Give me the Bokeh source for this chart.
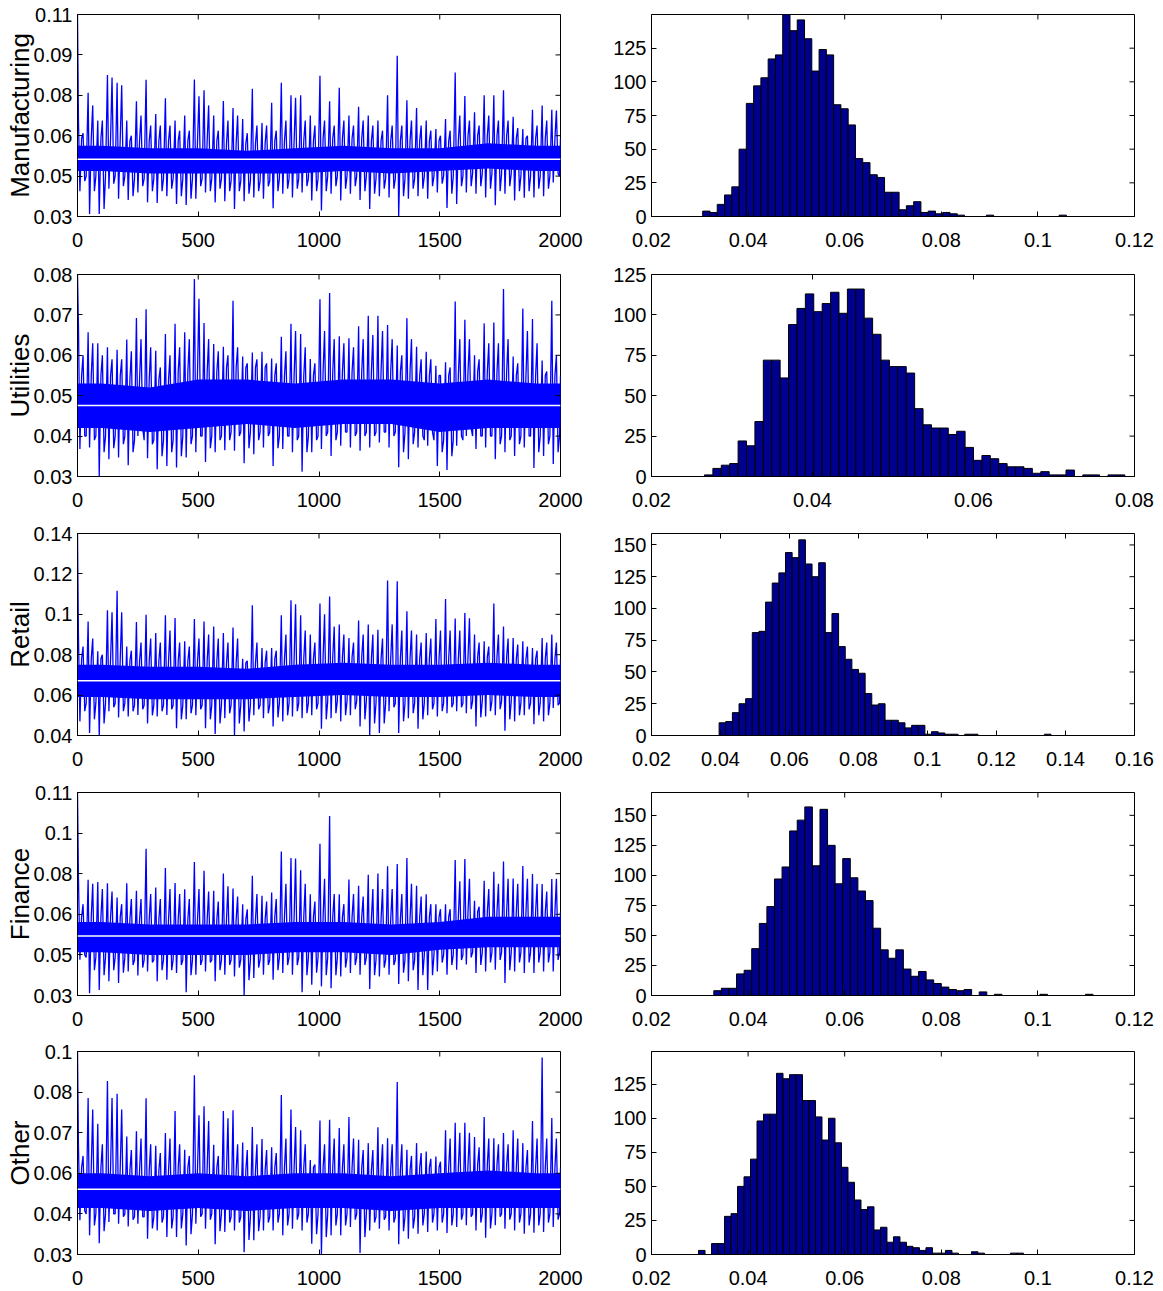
import numpy as np
from bokeh.plotting import figure
from bokeh.models import FixedTicker, Range1d, Span
from bokeh.layouts import column, row
from bokeh.embed import file_html
from bokeh.resources import INLINE

FONT = "Liberation Sans"
TRACE_BLUE = "#0000FF"
BAR_NAVY = "#00008F"

# ---------------- data ----------------
sectors = ["Manufacturing", "Utilities", "Retail", "Finance", "Other"]
iteration_ticks = [0, 500, 1000, 1500, 2000]
iteration_labels = ["0", "500", "1000", "1500", "2000"]
bin_size = 40  # iterations summarised by each group of read values

# per-40-iteration extremes of the chains
manuf_hi = [0.068, 0.079, 0.068, 0.086, 0.083, 0.068, 0.0756, 0.0842, 0.0706, 0.0768,
            0.068, 0.070, 0.0843, 0.080, 0.070, 0.0757, 0.073, 0.0686, 0.0806, 0.067,
            0.075, 0.083, 0.078, 0.078, 0.070, 0.0857, 0.0756, 0.081, 0.070, 0.0735,
            0.070, 0.068, 0.078, 0.0937, 0.076, 0.073, 0.068, 0.0646, 0.0686, 0.087,
            0.0777, 0.0713, 0.078, 0.078, 0.080, 0.0695, 0.0646, 0.0723, 0.074, 0.0723]
manuf_lo = [0.040, 0.031, 0.031, 0.041, 0.037, 0.0365, 0.0395, 0.0356, 0.0354, 0.038,
            0.035, 0.0346, 0.037, 0.0395, 0.0356, 0.036, 0.033, 0.036, 0.0375, 0.037,
            0.0333, 0.039, 0.0375, 0.0395, 0.0363, 0.0324, 0.039, 0.0363, 0.039, 0.0365,
            0.033, 0.038, 0.0375, 0.030, 0.037, 0.038, 0.037, 0.0395, 0.0334, 0.035,
            0.0395, 0.039, 0.0375, 0.0345, 0.039, 0.0363, 0.0374, 0.0375, 0.038, 0.0435]
manuf_hi2 = [0.063, 0.074, 0.068, 0.085, 0.082, 0.062, 0.070, 0.066, 0.066, 0.066,
             0.064, 0.064, 0.0776, 0.074, 0.064, 0.068, 0.070, 0.063, 0.066, 0.066,
             0.064, 0.068, 0.077, 0.068, 0.066, 0.068, 0.066, 0.068, 0.066, 0.068,
             0.066, 0.064, 0.066, 0.066, 0.068, 0.066, 0.064, 0.062, 0.064, 0.070,
             0.068, 0.066, 0.070, 0.068, 0.068, 0.065, 0.062, 0.066, 0.068, 0.072]
manuf_lo2 = [0.044, 0.040, 0.033, 0.043, 0.042, 0.038, 0.042, 0.040, 0.040, 0.041,
             0.038, 0.037, 0.042, 0.040, 0.041, 0.040, 0.040, 0.039, 0.040, 0.042,
             0.040, 0.041, 0.041, 0.042, 0.040, 0.040, 0.042, 0.041, 0.042, 0.040,
             0.039, 0.041, 0.041, 0.038, 0.041, 0.041, 0.042, 0.043, 0.039, 0.042,
             0.042, 0.042, 0.041, 0.040, 0.042, 0.040, 0.040, 0.041, 0.041, 0.047]

util_hi = [0.0672, 0.0657, 0.063, 0.062, 0.0614, 0.0639, 0.0692, 0.0714, 0.0611, 0.0653,
           0.0678, 0.0657, 0.0789, 0.068, 0.0628, 0.0621, 0.0735, 0.0597, 0.0607, 0.0609,
           0.0592, 0.0646, 0.0678, 0.0653, 0.0591, 0.0739, 0.0754, 0.0647, 0.0642, 0.0672,
           0.0698, 0.0698, 0.0675, 0.0624, 0.0692, 0.0621, 0.0609, 0.0574, 0.0583, 0.0733,
           0.0688, 0.060, 0.0679, 0.0681, 0.0764, 0.0597, 0.0716, 0.069, 0.0587, 0.0735]
util_lo = [0.0368, 0.0372, 0.030, 0.0343, 0.0347, 0.0328, 0.040, 0.0345, 0.0318, 0.0326,
           0.0322, 0.0347, 0.036, 0.0336, 0.036, 0.0365, 0.0364, 0.0333, 0.0355, 0.0372,
           0.0326, 0.0368, 0.036, 0.0312, 0.036, 0.0368, 0.0351, 0.0376, 0.0372, 0.0364,
           0.0372, 0.0384, 0.0372, 0.0323, 0.0343, 0.0372, 0.0376, 0.0326, 0.0316, 0.0376,
           0.040, 0.0368, 0.0372, 0.0343, 0.036, 0.0351, 0.0372, 0.0321, 0.0351, 0.0331]
util_hi2 = [0.060, 0.063, 0.060, 0.059, 0.059, 0.061, 0.064, 0.062, 0.057, 0.060,
            0.062, 0.064, 0.074, 0.064, 0.061, 0.060, 0.062, 0.058, 0.059, 0.058,
            0.058, 0.061, 0.066, 0.062, 0.058, 0.066, 0.064, 0.063, 0.062, 0.064,
            0.065, 0.066, 0.064, 0.060, 0.064, 0.059, 0.059, 0.055, 0.057, 0.064,
            0.064, 0.059, 0.063, 0.063, 0.064, 0.058, 0.066, 0.063, 0.056, 0.060]
util_lo2 = [0.040, 0.039, 0.036, 0.037, 0.038, 0.036, 0.042, 0.038, 0.035, 0.036,
            0.035, 0.038, 0.040, 0.037, 0.039, 0.039, 0.040, 0.037, 0.039, 0.040,
            0.037, 0.040, 0.039, 0.036, 0.039, 0.040, 0.039, 0.041, 0.040, 0.040,
            0.040, 0.041, 0.040, 0.036, 0.038, 0.040, 0.041, 0.036, 0.035, 0.040,
            0.042, 0.040, 0.040, 0.038, 0.039, 0.038, 0.040, 0.036, 0.038, 0.036]

retail_hi = [0.0886, 0.0964, 0.0817, 0.102, 0.1117, 0.0841, 0.0962, 0.0998, 0.0907, 0.0995,
             0.0982, 0.0866, 0.0977, 0.0964, 0.094, 0.0907, 0.0935, 0.078, 0.1045, 0.0833,
             0.0833, 0.0995, 0.107, 0.0995, 0.090, 0.1053, 0.1088, 0.0949, 0.0883, 0.0969,
             0.0949, 0.0924, 0.1167, 0.1164, 0.1015, 0.090, 0.0907, 0.0977, 0.1076, 0.0979,
             0.1007, 0.090, 0.0866, 0.1053, 0.094, 0.0883, 0.0866, 0.0833, 0.0883, 0.090]
retail_lo = [0.047, 0.0412, 0.040, 0.052, 0.0489, 0.0494, 0.0502, 0.046, 0.0494, 0.0502,
             0.0436, 0.0481, 0.050, 0.0436, 0.0407, 0.0486, 0.040, 0.042, 0.050, 0.0486,
             0.0445, 0.047, 0.0494, 0.0486, 0.050, 0.0433, 0.0486, 0.047, 0.050, 0.0445,
             0.040, 0.0412, 0.052, 0.0412, 0.0486, 0.0433, 0.050, 0.0494, 0.051, 0.052,
             0.051, 0.0445, 0.0494, 0.050, 0.0423, 0.047, 0.050, 0.0456, 0.047, 0.0536]
retail_hi2 = [0.084, 0.088, 0.080, 0.101, 0.101, 0.082, 0.086, 0.088, 0.086, 0.092,
              0.086, 0.084, 0.088, 0.090, 0.088, 0.086, 0.088, 0.077, 0.086, 0.082,
              0.082, 0.090, 0.105, 0.092, 0.086, 0.100, 0.094, 0.090, 0.086, 0.090,
              0.090, 0.088, 0.095, 0.092, 0.092, 0.086, 0.088, 0.092, 0.092, 0.092,
              0.098, 0.086, 0.084, 0.090, 0.088, 0.085, 0.084, 0.082, 0.086, 0.086]
retail_lo2 = [0.052, 0.048, 0.046, 0.054, 0.052, 0.052, 0.053, 0.050, 0.052, 0.053,
              0.048, 0.051, 0.053, 0.048, 0.046, 0.051, 0.046, 0.047, 0.053, 0.051,
              0.049, 0.050, 0.052, 0.051, 0.053, 0.048, 0.051, 0.050, 0.053, 0.048,
              0.046, 0.046, 0.054, 0.047, 0.051, 0.048, 0.053, 0.052, 0.054, 0.054,
              0.053, 0.049, 0.052, 0.053, 0.048, 0.050, 0.053, 0.050, 0.050, 0.055]

finance_hi = [0.0779, 0.0776, 0.0767, 0.0762, 0.0706, 0.0762, 0.0733, 0.0898, 0.0746, 0.0822,
              0.0763, 0.0739, 0.0846, 0.0812, 0.0733, 0.0801, 0.0742, 0.068, 0.0792, 0.0713,
              0.0726, 0.0887, 0.0862, 0.0814, 0.0719, 0.0918, 0.1027, 0.0719, 0.0777, 0.0752,
              0.0796, 0.0801, 0.0829, 0.0838, 0.0862, 0.0752, 0.0719, 0.068, 0.068, 0.0854,
              0.0858, 0.0693, 0.0772, 0.0808, 0.0848, 0.0781, 0.083, 0.0799, 0.0759, 0.0779]
finance_lo = [0.0461, 0.0329, 0.0342, 0.0376, 0.0369, 0.0415, 0.0399, 0.0415, 0.0376, 0.0382,
              0.0409, 0.0333, 0.0402, 0.0415, 0.0376, 0.0402, 0.0395, 0.032, 0.0389, 0.0402,
              0.0382, 0.0409, 0.0402, 0.0333, 0.0362, 0.0356, 0.0349, 0.0395, 0.0409, 0.0402,
              0.0346, 0.0395, 0.0402, 0.0365, 0.0376, 0.0342, 0.0342, 0.0415, 0.0402, 0.0422,
              0.0442, 0.0409, 0.0415, 0.0422, 0.0369, 0.0415, 0.0409, 0.0409, 0.0415, 0.0415]
finance_hi2 = [0.068, 0.076, 0.074, 0.073, 0.068, 0.070, 0.070, 0.072, 0.070, 0.074,
               0.072, 0.070, 0.074, 0.073, 0.069, 0.075, 0.071, 0.066, 0.072, 0.069,
               0.070, 0.076, 0.086, 0.076, 0.069, 0.078, 0.072, 0.068, 0.072, 0.071,
               0.074, 0.074, 0.074, 0.072, 0.076, 0.071, 0.068, 0.066, 0.066, 0.077,
               0.078, 0.067, 0.074, 0.076, 0.078, 0.076, 0.078, 0.076, 0.073, 0.078]
finance_lo2 = [0.048, 0.042, 0.040, 0.042, 0.041, 0.044, 0.043, 0.045, 0.042, 0.042,
               0.044, 0.040, 0.044, 0.045, 0.042, 0.044, 0.043, 0.038, 0.043, 0.044,
               0.042, 0.044, 0.044, 0.040, 0.041, 0.040, 0.040, 0.043, 0.044, 0.044,
               0.040, 0.043, 0.044, 0.041, 0.042, 0.040, 0.040, 0.045, 0.044, 0.046,
               0.047, 0.044, 0.045, 0.046, 0.042, 0.045, 0.045, 0.045, 0.045, 0.046]

other_hi = [0.0653, 0.082, 0.0731, 0.0878, 0.0834, 0.0687, 0.0705, 0.0819, 0.0655, 0.0699,
            0.0775, 0.0641, 0.0898, 0.0791, 0.0658, 0.0775, 0.0777, 0.0666, 0.072, 0.0678,
            0.065, 0.083, 0.078, 0.0708, 0.0606, 0.0742, 0.0745, 0.0716, 0.0754, 0.0676,
            0.0664, 0.0719, 0.0681, 0.0875, 0.0641, 0.0664, 0.0635, 0.0618, 0.0708, 0.0734,
            0.0734, 0.0685, 0.0754, 0.0681, 0.0699, 0.0708, 0.0664, 0.074, 0.0959, 0.0751]
other_lo = [0.0398, 0.0346, 0.0319, 0.0392, 0.0386, 0.0377, 0.0386, 0.0334, 0.0363, 0.034,
            0.034, 0.0311, 0.0386, 0.0369, 0.0315, 0.0358, 0.0363, 0.0288, 0.0329, 0.0363,
            0.0363, 0.0346, 0.0369, 0.0363, 0.0317, 0.028, 0.0346, 0.0346, 0.0375, 0.0285,
            0.0363, 0.0369, 0.0363, 0.0315, 0.0334, 0.0352, 0.0358, 0.0363, 0.0354, 0.0375,
            0.0381, 0.0363, 0.0338, 0.0381, 0.0369, 0.0363, 0.0352, 0.0355, 0.0358, 0.0375]
other_hi2 = [0.062, 0.078, 0.066, 0.082, 0.078, 0.064, 0.068, 0.066, 0.063, 0.068,
             0.066, 0.062, 0.076, 0.074, 0.062, 0.075, 0.066, 0.064, 0.066, 0.064,
             0.063, 0.068, 0.072, 0.066, 0.059, 0.066, 0.068, 0.066, 0.068, 0.064,
             0.064, 0.066, 0.066, 0.066, 0.062, 0.063, 0.061, 0.060, 0.068, 0.070,
             0.070, 0.065, 0.068, 0.066, 0.066, 0.068, 0.064, 0.068, 0.068, 0.068]
other_lo2 = [0.043, 0.038, 0.036, 0.042, 0.041, 0.040, 0.041, 0.037, 0.039, 0.037,
             0.037, 0.035, 0.041, 0.040, 0.036, 0.039, 0.039, 0.033, 0.036, 0.039,
             0.039, 0.038, 0.040, 0.039, 0.035, 0.034, 0.038, 0.038, 0.040, 0.034,
             0.039, 0.040, 0.039, 0.036, 0.037, 0.038, 0.039, 0.039, 0.038, 0.040,
             0.041, 0.039, 0.037, 0.041, 0.040, 0.039, 0.038, 0.038, 0.039, 0.040]

# outer edges of the dense central band of each chain, per 200 iterations
manuf_core_lo = [0.046, 0.045, 0.045, 0.044, 0.045, 0.046, 0.045, 0.046, 0.047, 0.046]
manuf_core_hi = [0.061, 0.060, 0.060, 0.059, 0.060, 0.061, 0.060, 0.060, 0.062, 0.061]
util_core_lo = [0.040, 0.039, 0.040, 0.041, 0.040, 0.041, 0.041, 0.039, 0.040, 0.040]
util_core_hi = [0.055, 0.054, 0.056, 0.057, 0.055, 0.056, 0.056, 0.055, 0.056, 0.055]
retail_core_lo = [0.056, 0.055, 0.055, 0.055, 0.056, 0.057, 0.056, 0.056, 0.057, 0.056]
retail_core_hi = [0.078, 0.077, 0.077, 0.076, 0.078, 0.079, 0.078, 0.078, 0.079, 0.078]
finance_core_lo = [0.047, 0.046, 0.046, 0.046, 0.047, 0.047, 0.046, 0.048, 0.049, 0.049]
finance_core_hi = [0.063, 0.062, 0.062, 0.062, 0.063, 0.063, 0.062, 0.063, 0.065, 0.065]
other_core_lo = [0.042, 0.041, 0.042, 0.041, 0.042, 0.042, 0.041, 0.042, 0.042, 0.042]
other_core_hi = [0.058, 0.057, 0.058, 0.057, 0.058, 0.058, 0.057, 0.058, 0.059, 0.058]

# fully solid inner part of that band, per 200 iterations
manuf_solid_lo = [0.048, 0.047, 0.047, 0.047, 0.047, 0.048, 0.047, 0.048, 0.049, 0.048]
manuf_solid_hi = [0.058, 0.057, 0.057, 0.056, 0.057, 0.058, 0.057, 0.057, 0.059, 0.058]
util_solid_lo = [0.042, 0.041, 0.042, 0.043, 0.042, 0.043, 0.043, 0.041, 0.042, 0.042]
util_solid_hi = [0.053, 0.052, 0.054, 0.054, 0.053, 0.054, 0.054, 0.053, 0.054, 0.053]
retail_solid_lo = [0.059, 0.058, 0.058, 0.058, 0.059, 0.060, 0.059, 0.059, 0.060, 0.059]
retail_solid_hi = [0.075, 0.074, 0.074, 0.073, 0.075, 0.076, 0.075, 0.075, 0.076, 0.075]
finance_solid_lo = [0.049, 0.048, 0.048, 0.048, 0.049, 0.049, 0.048, 0.050, 0.051, 0.051]
finance_solid_hi = [0.061, 0.060, 0.060, 0.060, 0.061, 0.061, 0.060, 0.061, 0.063, 0.063]
other_solid_lo = [0.044, 0.043, 0.044, 0.043, 0.044, 0.044, 0.043, 0.044, 0.044, 0.044]
other_solid_hi = [0.056, 0.055, 0.056, 0.055, 0.056, 0.056, 0.055, 0.056, 0.057, 0.056]

# starting value (iteration 0) and posterior mean of each chain
start_values = [0.11, 0.08, 0.14, 0.112, 0.098]
mean_values = [0.0527, 0.0476, 0.0671, 0.0554, 0.0505]

# trace-plot axes
trace_ranges = [(0.03, 0.11), (0.03, 0.08), (0.04, 0.14), (0.032, 0.112), (0.028, 0.098)]
trace_yticks = [[0.03, 0.046, 0.062, 0.078, 0.094, 0.11],
                [0.03, 0.04, 0.05, 0.06, 0.07, 0.08],
                [0.04, 0.06, 0.08, 0.10, 0.12, 0.14],
                [0.032, 0.048, 0.064, 0.080, 0.096, 0.112],
                [0.028, 0.042, 0.056, 0.070, 0.084, 0.098]]
trace_ylabels = [["0.03", "0.05", "0.06", "0.08", "0.09", "0.11"],
                 ["0.03", "0.04", "0.05", "0.06", "0.07", "0.08"],
                 ["0.04", "0.06", "0.08", "0.1", "0.12", "0.14"],
                 ["0.03", "0.05", "0.06", "0.08", "0.1", "0.11"],
                 ["0.03", "0.04", "0.06", "0.07", "0.08", "0.1"]]

# histograms (50 bins between the chain's min and max)
manuf_counts = [4, 3, 9, 16, 22, 50, 84, 97, 103, 117, 120, 150, 138, 146, 132, 108, 124, 120, 83, 80,
                68, 43, 40, 31, 29, 18, 18, 5, 8, 11, 3, 4, 2, 3, 2, 1, 0, 0, 0, 1,
                0, 0, 0, 0, 0, 0, 0, 0, 0, 1]
util_counts = [1, 5, 7, 8, 22, 19, 34, 72, 72, 61, 94, 104, 113, 102, 107, 114, 101, 116, 116, 98,
               88, 72, 68, 68, 64, 42, 32, 30, 30, 26, 28, 18, 10, 13, 11, 8, 6, 6, 5, 2,
               3, 1, 1, 4, 0, 1, 1, 0, 1, 1]
retail_counts = [10, 11, 18, 25, 29, 81, 82, 105, 120, 128, 144, 140, 154, 135, 125, 136, 81, 96, 70, 60,
                 52, 49, 33, 24, 25, 12, 12, 10, 6, 8, 8, 1, 3, 2, 1, 1, 0, 1, 1, 0,
                 0, 0, 0, 0, 0, 0, 0, 0, 0, 1]
finance_counts = [4, 6, 6, 18, 21, 39, 60, 74, 97, 107, 137, 146, 157, 108, 155, 125, 93, 114, 98, 87,
                  79, 56, 38, 31, 38, 22, 16, 20, 13, 10, 7, 5, 4, 5, 0, 3, 0, 1, 0, 0,
                  0, 0, 0, 1, 0, 0, 0, 0, 0, 1]
other_counts = [3, 0, 8, 8, 28, 30, 50, 57, 70, 98, 103, 103, 133, 129, 132, 132, 113, 113, 101, 84,
                100, 82, 64, 53, 40, 33, 35, 18, 20, 9, 13, 9, 6, 5, 3, 5, 1, 1, 3, 1,
                0, 0, 2, 1, 0, 0, 0, 0, 1, 1]
hist_edges_span = [(0.0306, 0.1059), (0.02658, 0.0788), (0.0396, 0.1358), (0.0329, 0.1114), (0.02974, 0.0970)]

hist_xranges = [(0.02, 0.12), (0.02, 0.08), (0.02, 0.16), (0.02, 0.12), (0.02, 0.12)]
hist_xticks = [[0.02, 0.04, 0.06, 0.08, 0.10, 0.12],
               [0.02, 0.04, 0.06, 0.08],
               [0.02, 0.04, 0.06, 0.08, 0.10, 0.12, 0.14, 0.16],
               [0.02, 0.04, 0.06, 0.08, 0.10, 0.12],
               [0.02, 0.04, 0.06, 0.08, 0.10, 0.12]]
hist_xlabels = [["0.02", "0.04", "0.06", "0.08", "0.1", "0.12"],
                ["0.02", "0.04", "0.06", "0.08"],
                ["0.02", "0.04", "0.06", "0.08", "0.1", "0.12", "0.14", "0.16"],
                ["0.02", "0.04", "0.06", "0.08", "0.1", "0.12"],
                ["0.02", "0.04", "0.06", "0.08", "0.1", "0.12"]]
hist_ytops = [150, 125, 159, 169, 149]
hist_yticks = [[0, 25, 50, 75, 100, 125],
               [0, 25, 50, 75, 100, 125],
               [0, 25, 50, 75, 100, 125, 150],
               [0, 25, 50, 75, 100, 125, 150],
               [0, 25, 50, 75, 100, 125]]

all_hi = [manuf_hi, util_hi, retail_hi, finance_hi, other_hi]
all_lo = [manuf_lo, util_lo, retail_lo, finance_lo, other_lo]
all_hi2 = [manuf_hi2, util_hi2, retail_hi2, finance_hi2, other_hi2]
all_lo2 = [manuf_lo2, util_lo2, retail_lo2, finance_lo2, other_lo2]
all_core_lo = [manuf_core_lo, util_core_lo, retail_core_lo, finance_core_lo, other_core_lo]
all_core_hi = [manuf_core_hi, util_core_hi, retail_core_hi, finance_core_hi, other_core_hi]
all_solid_lo = [manuf_solid_lo, util_solid_lo, retail_solid_lo, finance_solid_lo, other_solid_lo]
all_solid_hi = [manuf_solid_hi, util_solid_hi, retail_solid_hi, finance_solid_hi, other_solid_hi]
all_counts = [manuf_counts, util_counts, retail_counts, finance_counts, other_counts]

# ---------------- layout / styling ----------------
FRAME_W = 483
frame_heights = [202, 202, 202, 203, 203]
border_tops = [14, 14, 13, 13, 12]
border_bottoms = [44, 44, 44, 44, 36]
TICK_PX = 5


def style(p, xticks, xlabels, yticks, ylabels, frame_h):
    p.toolbar_location = None
    p.background_fill_color = "white"
    p.border_fill_color = "white"
    p.outline_line_color = "black"
    p.outline_line_width = 1
    p.xgrid.visible = False
    p.ygrid.visible = False
    for ax, ticks, labels, standoff in ((p.xaxis[0], xticks, xlabels, 16),
                                          (p.yaxis[0], yticks, ylabels, 5)):
        ax.ticker = FixedTicker(ticks=ticks)
        ax.major_label_overrides = {t: l for t, l in zip(ticks, labels)}
        ax.major_label_text_font = FONT
        ax.major_label_text_font_size = "20px"
        ax.major_label_text_color = "black"
        ax.major_label_standoff = standoff
        ax.major_tick_in = TICK_PX
        ax.major_tick_out = 0
        ax.minor_tick_in = 0
        ax.minor_tick_out = 0
        ax.axis_line_color = "black"
        ax.major_tick_line_color = "black"
    # mirrored inner ticks on the top and right edges of the box
    x0, x1 = p.x_range.start, p.x_range.end
    y0, y1 = p.y_range.start, p.y_range.end
    dy = (y1 - y0) * TICK_PX / frame_h
    dx = (x1 - x0) * TICK_PX / FRAME_W
    p.segment(x0=xticks, y0=[y1] * len(xticks), x1=xticks, y1=[y1 - dy] * len(xticks),
              line_color="black", line_width=1)
    p.segment(x0=[x1] * len(yticks), y0=yticks, x1=[x1 - dx] * len(yticks), y1=yticks,
              line_color="black", line_width=1)


rows = []
for k, name in enumerate(sectors):
    y0, y1 = trace_ranges[k]
    left = figure(frame_width=FRAME_W, frame_height=frame_heights[k],
                  x_range=Range1d(0, 2000), y_range=Range1d(y0, y1),
                  min_border_left=77, min_border_right=24,
                  min_border_top=border_tops[k], min_border_bottom=border_bottoms[k],
                  output_backend="svg", toolbar_location=None, tools="")

    hi, lo, hi2, lo2 = all_hi[k], all_lo[k], all_hi2[k], all_lo2[k]
    clo, chi = all_core_lo[k], all_core_hi[k]
    slo, shi = all_solid_lo[k], all_solid_hi[k]
    per_seg = len(hi) // len(clo)
    xs = [0]
    ys = [start_values[k]]
    for i in range(len(hi)):
        base = i * bin_size
        s = i // per_seg
        xs += [base + 4, base + 10, base + 17, base + 23, base + 30, base + 36]
        ys += [hi[i], lo[i], chi[s], hi2[i], lo2[i], clo[s]]
    xs.append(2000)
    ys.append(chi[-1])

    seg = 2000 / len(slo)
    sx = [0] + [seg * (i + 0.5) for i in range(len(slo))] + [2000]
    left.varea(x=sx, y1=[slo[0]] + slo + [slo[-1]], y2=[shi[0]] + shi + [shi[-1]],
               fill_color=TRACE_BLUE, fill_alpha=1.0)
    left.line(xs, ys, line_color=TRACE_BLUE, line_width=1.3)
    left.add_layout(Span(location=mean_values[k], dimension="width",
                         line_color="white", line_width=1.5))
    style(left, iteration_ticks, iteration_labels, trace_yticks[k], trace_ylabels[k],
          frame_heights[k])
    left.yaxis[0].axis_label = name
    left.yaxis[0].axis_label_text_font = FONT
    left.yaxis[0].axis_label_text_font_size = "26px"
    left.yaxis[0].axis_label_text_font_style = "normal"
    left.yaxis[0].axis_label_text_color = "black"
    left.yaxis[0].axis_label_standoff = -4

    # histogram
    h0, h1 = hist_xranges[k]
    right = figure(frame_width=FRAME_W, frame_height=frame_heights[k],
                   x_range=Range1d(h0, h1), y_range=Range1d(0, hist_ytops[k]),
                   min_border_left=67, min_border_right=25,
                   min_border_top=border_tops[k], min_border_bottom=border_bottoms[k],
                   output_backend="svg", toolbar_location=None, tools="")
    counts = all_counts[k]
    e0, e1 = hist_edges_span[k]
    edges = np.linspace(e0, e1, len(counts) + 1)
    right.quad(left=edges[:-1], right=edges[1:], bottom=0, top=counts,
               fill_color=BAR_NAVY, line_color="black", line_width=1)
    style(right, hist_xticks[k], hist_xlabels[k], hist_yticks[k],
          [str(v) for v in hist_yticks[k]], frame_heights[k])

    rows.append(row(left, right, spacing=0))

layout = column(*rows, spacing=0)
open("out.html", "w").write(file_html(layout, INLINE, title="MCMC traces and histograms"))
